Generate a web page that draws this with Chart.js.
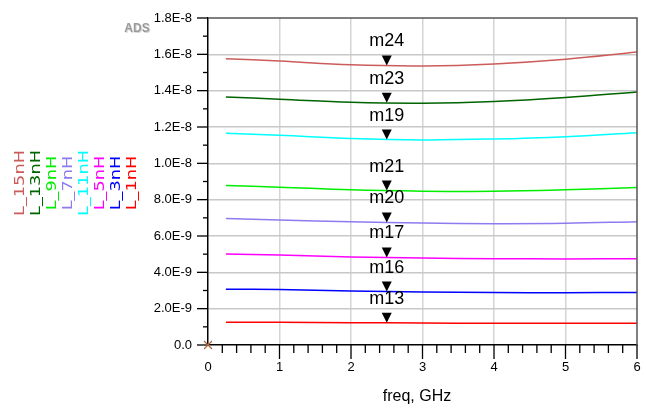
<!DOCTYPE html>
<html>
<head>
<meta charset="utf-8">
<script src="https://cdn.jsdelivr.net/npm/chart.js@4"></script>
<style>
  html, body { margin: 0; padding: 0; background: #fff; }
</style>
</head>
<body>
<canvas id="chart" width="646" height="413"></canvas>
<script>
const freq = [0.25, 1, 2, 3, 4, 5, 6];
const seriesNames = ['L_15nH', 'L_13nH', 'L_9nH', 'L_7nH', 'L_11nH', 'L_5nH', 'L_3nH', 'L_1nH'];
const seriesColors = ['#cc5c5c', '#006400', '#00ee00', '#8c7cf0', '#00ffff', '#ff00ff', '#0000ff', '#ff0000'];

const l15 = [15.76e-9, 15.63e-9, 15.42e-9, 15.36e-9, 15.47e-9, 15.73e-9, 16.13e-9];
const l13 = [13.65e-9, 13.53e-9, 13.36e-9, 13.31e-9, 13.40e-9, 13.62e-9, 13.93e-9];
const l9 = [8.78e-9, 8.69e-9, 8.54e-9, 8.47e-9, 8.46e-9, 8.54e-9, 8.67e-9];
const l7 = [6.97e-9, 6.88e-9, 6.78e-9, 6.71e-9, 6.68e-9, 6.70e-9, 6.79e-9];
const l11 = [11.66e-9, 11.55e-9, 11.37e-9, 11.29e-9, 11.34e-9, 11.47e-9, 11.69e-9];
const l5 = [5.01e-9, 4.96e-9, 4.85e-9, 4.79e-9, 4.75e-9, 4.74e-9, 4.75e-9];
const l3 = [3.07e-9, 3.05e-9, 2.97e-9, 2.92e-9, 2.89e-9, 2.88e-9, 2.89e-9];
const l1 = [1.25e-9, 1.25e-9, 1.23e-9, 1.21e-9, 1.20e-9, 1.20e-9, 1.20e-9];
const seriesValues = [l15, l13, l9, l7, l11, l5, l3, l1];

// markers, same order as the series
const markerFreq = 2.5;
const markerNames = ['m24', 'm23', 'm21', 'm20', 'm19', 'm17', 'm16', 'm13'];
const markerValues = [15.39e-9, 13.33e-9, 8.50e-9, 6.75e-9, 11.31e-9, 4.82e-9, 2.94e-9, 1.22e-9];

const FONT = '"Liberation Sans", Arial, sans-serif';

const decor = {
  id: 'decor',
  afterDatasetsDraw(chart) {
    const ctx = chart.ctx;
    const xs = chart.scales.x, ys = chart.scales.y;
    const a = chart.chartArea;
    ctx.save();

    // top and right frame
    ctx.strokeStyle = '#555';
    ctx.lineWidth = 1.5;
    ctx.beginPath();
    ctx.moveTo(a.left, a.top);
    ctx.lineTo(a.right, a.top);
    ctx.lineTo(a.right, a.bottom);
    ctx.stroke();

    // ticks on x axis
    ctx.strokeStyle = '#000';
    ctx.lineWidth = 1.3;
    for (let i = 1; i <= 30; i++) {
      const px = xs.getPixelForValue(i * 0.2);
      const len = i % 5 === 0 ? 14 : 8;
      ctx.beginPath();
      ctx.moveTo(px, a.bottom);
      ctx.lineTo(px, a.bottom + len);
      ctx.stroke();
    }
    // ticks on y axis
    for (let i = 0; i <= 18; i++) {
      const py = ys.getPixelForValue(i * 1e-9);
      const len = i % 2 === 0 ? 11 : 5;
      ctx.beginPath();
      ctx.moveTo(a.left - len, py);
      ctx.lineTo(a.left, py);
      ctx.stroke();
    }

    // origin cross
    ctx.strokeStyle = '#b5653a';
    ctx.lineWidth = 1.2;
    const ox = xs.getPixelForValue(0), oy = ys.getPixelForValue(0);
    ctx.beginPath();
    ctx.moveTo(ox - 4, oy - 4); ctx.lineTo(ox + 4, oy + 4);
    ctx.moveTo(ox - 4, oy + 4); ctx.lineTo(ox + 4, oy - 4);
    ctx.stroke();

    // markers
    ctx.fillStyle = '#000';
    ctx.font = '18px ' + FONT;
    ctx.textAlign = 'center';
    ctx.textBaseline = 'alphabetic';
    markerNames.forEach((name, i) => {
      const px = xs.getPixelForValue(markerFreq);
      const py = ys.getPixelForValue(markerValues[i]);
      ctx.beginPath();
      ctx.moveTo(px - 5, py - 10);
      ctx.lineTo(px + 5, py - 10);
      ctx.lineTo(px, py);
      ctx.closePath();
      ctx.fill();
      ctx.fillText(name, px, py - 19);
    });

    // rotated trace names on the left
    ctx.font = '14px "DejaVu Sans", sans-serif';
    ctx.textBaseline = 'middle';
    seriesNames.forEach((name, i) => {
      ctx.save();
      ctx.translate(20 + i * 16, 183);
      ctx.rotate(-Math.PI / 2);
      ctx.scale(1.27, 1);
      ctx.fillStyle = seriesColors[i];
      ctx.fillText(name, 0, 0);
      ctx.restore();
    });

    // ADS logo
    ctx.font = 'bold 12px ' + FONT;
    ctx.fillStyle = '#d8d8d8';
    ctx.fillText('ADS', 138, 30);
    ctx.fillStyle = '#9a9a9a';
    ctx.fillText('ADS', 137, 29);

    // x title
    ctx.font = '16px ' + FONT;
    ctx.fillStyle = '#000';
    ctx.textBaseline = 'alphabetic';
    ctx.fillText('freq, GHz', 417, 401);

    ctx.restore();
  }
};

new Chart(
  document.getElementById('chart'),
  {
    type: 'line',
    data: {
      datasets: seriesNames.map((name, i) => ({
        label: name,
        data: freq.map((f, j) => ({ x: f, y: seriesValues[i][j] })),
        borderColor: seriesColors[i],
        backgroundColor: seriesColors[i],
        borderWidth: 1.5,
        pointRadius: 0,
        tension: 0.4,
        fill: false
      }))
    },
    options: {
      responsive: false,
      animation: false,
      layout: { padding: { top: 18, right: 9, left: 0, bottom: 0 } },
      plugins: {
        legend: { display: false },
        tooltip: { enabled: false }
      },
      scales: {
        x: {
          type: 'linear',
          min: 0,
          max: 6,
          afterFit(s) {
            s.height = 68;
            s.paddingLeft = 0;
            s.paddingRight = 0;
          },
          ticks: {
            stepSize: 1,
            padding: 15,
            maxRotation: 0,
            color: '#000',
            font: { family: FONT, size: 13 }
          },
          grid: {
            drawTicks: false,
            lineWidth: 1.5,
            color: c => (c.tick && c.tick.value > 0 && c.tick.value < 6) ? '#d4d4d4' : 'rgba(0,0,0,0)'
          },
          border: { color: '#000', width: 1.5 }
        },
        y: {
          type: 'linear',
          min: 0,
          max: 1.8e-8,
          afterFit(s) {
            s.width = 208;
            s.paddingTop = 0;
            s.paddingBottom = 0;
          },
          ticks: {
            stepSize: 2e-9,
            padding: 16,
            color: '#000',
            font: { family: FONT, size: 13 },
            callback: v => v === 0 ? '0.0' : Number(v).toExponential(1).toUpperCase()
          },
          grid: {
            drawTicks: false,
            lineWidth: 1.5,
            color: c => (c.tick && c.tick.value > 1e-12 && c.tick.value < 1.79e-8) ? '#c8c8c8' : 'rgba(0,0,0,0)'
          },
          border: { color: '#000', width: 1.5 }
        }
      }
    },
    plugins: [decor]
  }
);
</script>
</body>
</html>
